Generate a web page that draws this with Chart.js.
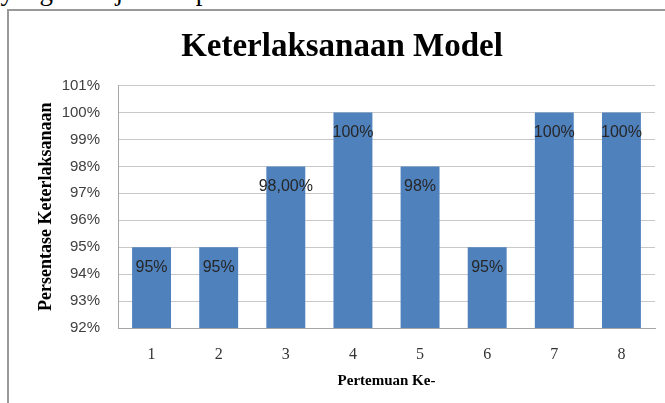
<!DOCTYPE html>
<html>
<head>
<meta charset="utf-8">
<script src="https://cdn.jsdelivr.net/npm/chart.js@4.4.0/dist/chart.umd.min.js"></script>
<style>
  html, body { margin: 0; padding: 0; background: #fff; overflow: hidden; }
  body { width: 665px; height: 403px; position: relative; }
  .doc { position: absolute; top: -22px; font-family: "Liberation Serif", serif; font-size: 27px; line-height: 1; color: #000; white-space: nowrap; }
  #frame { position: absolute; left: 7px; top: 9px; width: 720px; height: 440px; border: 2px solid #999; box-sizing: border-box; background: #fff; }
  #c { position: absolute; left: 0; top: 0; }
</style>
</head>
<body>
<div class="doc" style="right: 612px;">hasil seperti yang</div>
<div class="doc" style="left: 60px;">ditunjukkan pada Gambar 4.</div>
<div id="frame"></div>
<canvas id="c" width="665" height="403"></canvas>
<script>
const categories = ["1", "2", "3", "4", "5", "6", "7", "8"];
const values = [95, 95, 98, 100, 98, 95, 100, 100];
const valueLabels = ["95%", "95%", "98,00%", "100%", "98%", "95%", "100%", "100%"];
const yMin = 92, yMax = 101, yStep = 1;

const barLabelPlugin = {
  id: 'barLabels',
  afterDatasetsDraw(chart) {
    const ctx = chart.ctx;
    const meta = chart.getDatasetMeta(0);
    ctx.save();
    ctx.font = '16px "Liberation Sans", sans-serif';
    ctx.fillStyle = '#262626';
    ctx.textAlign = 'center';
    ctx.textBaseline = 'middle';
    meta.data.forEach((bar, i) => {
      ctx.fillText(valueLabels[i], bar.x, bar.y + 20);
    });
    ctx.restore();
  }
};

new Chart(document.getElementById('c'), {
  type: 'bar',
  data: {
    labels: categories,
    datasets: [{
      data: values,
      backgroundColor: '#4f81bd',
      borderWidth: 0,
      barPercentage: 0.58,
      categoryPercentage: 1.0
    }]
  },
  options: {
    responsive: false,
    animation: false,
    devicePixelRatio: 1,
    layout: { padding: { left: 29, right: 10, top: 0, bottom: 0 } },
    plugins: {
      legend: { display: false },
      tooltip: { enabled: false },
      title: {
        display: true,
        text: 'Keterlaksanaan Model',
        color: '#000',
        font: { family: '"Liberation Serif", serif', size: 33, weight: 'bold' },
        padding: { top: 28, bottom: 18 }
      }
    },
    scales: {
      x: {
        grid: { display: false, drawTicks: false },
        border: { display: true, color: '#a6a6a6', width: 1 },
        ticks: {
          color: '#333',
          font: { family: '"Liberation Serif", serif', size: 16 },
          padding: 17
        },
        title: {
          display: true,
          text: 'Pertemuan Ke-',
          color: '#000',
          font: { family: '"Liberation Serif", serif', size: 15, weight: 'bold' },
          padding: { top: 0, bottom: 13 }
        },
        afterFit(scale) { scale.height = 75; }
      },
      y: {
        min: yMin,
        max: yMax,
        grid: { color: '#c8c8c8', drawTicks: false, lineWidth: 1 },
        border: { display: true, color: '#a6a6a6', width: 1 },
        ticks: {
          stepSize: yStep,
          color: '#404040',
          font: { family: '"Liberation Sans", sans-serif', size: 15 },
          padding: 18,
          callback: (v) => v + '%'
        },
        title: {
          display: true,
          text: 'Persentase Keterlaksanaan',
          color: '#000',
          font: { family: '"Liberation Serif", serif', size: 18, weight: 'bold' },
          padding: { top: 7, bottom: 0 }
        },
        afterFit(scale) { scale.width = 89; }
      }
    }
  },
  plugins: [barLabelPlugin]
});
</script>
</body>
</html>
